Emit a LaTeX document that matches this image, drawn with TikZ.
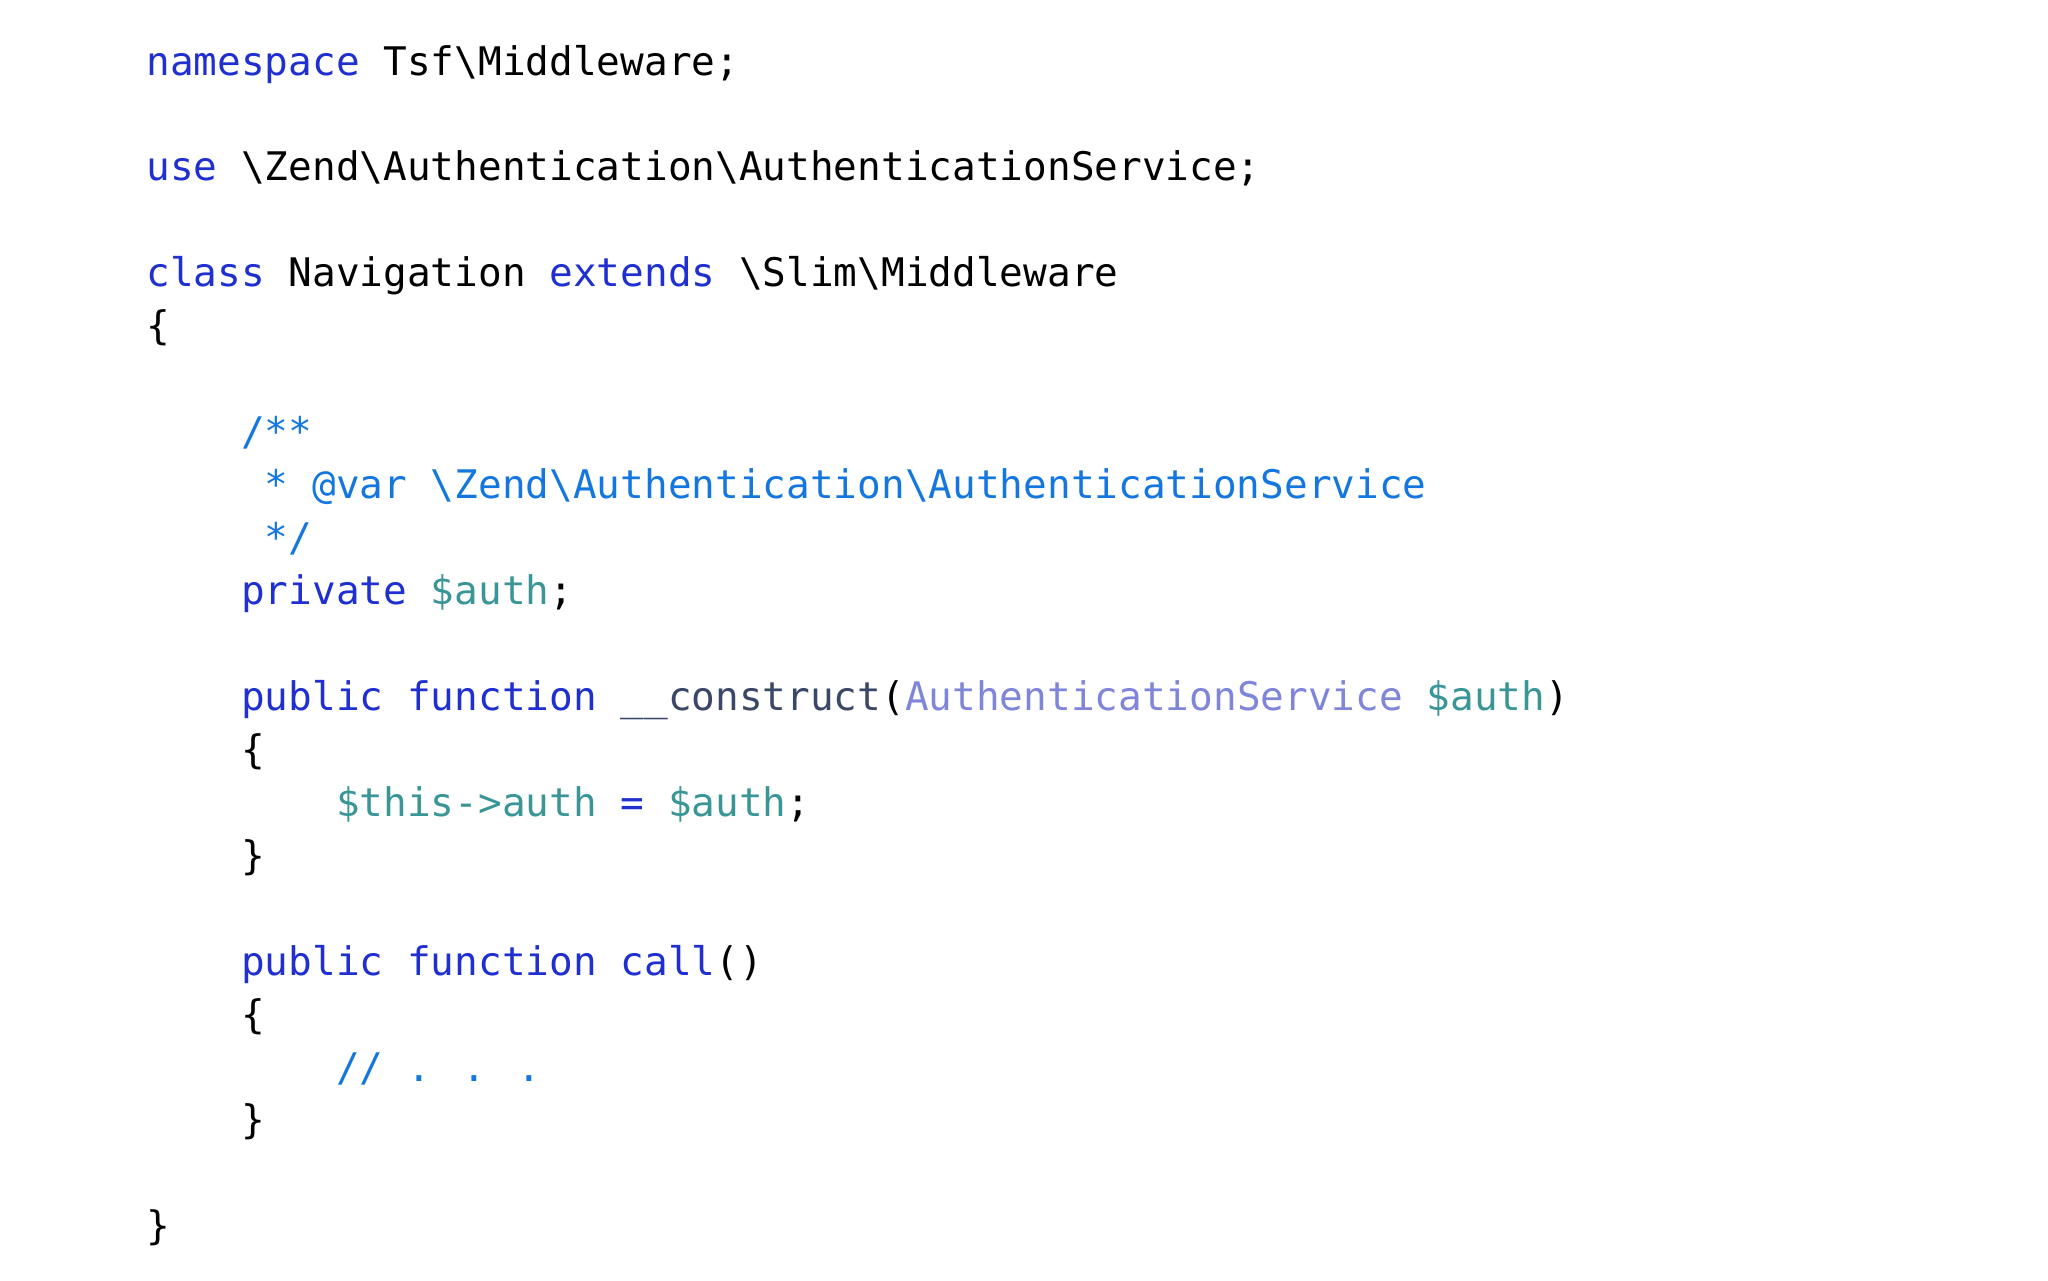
\documentclass[tikz,border=0pt]{standalone}
\usepackage{fontspec}
\newfontfamily\codefont{DejaVu Sans Mono}
\definecolor{kw}{HTML}{1F2FD0}
\definecolor{cm}{HTML}{1477E0}
\definecolor{vr}{HTML}{3A9696}
\definecolor{ty}{HTML}{7F86DA}
\definecolor{fn}{HTML}{3A4766}
\newcommand{\bs}{\char`\\}
\newcommand{\K}[1]{\textcolor{kw}{#1}}
\newcommand{\C}[1]{\textcolor{cm}{#1}}
\newcommand{\V}[1]{\textcolor{vr}{#1}}
\newcommand{\T}[1]{\textcolor{ty}{#1}}
\newcommand{\F}[1]{\textcolor{fn}{#1}}
\begin{document}
\begin{tikzpicture}[x=1pt,y=-1pt,
  codeline/.style={anchor=base west,inner sep=0pt,font=\codefont\fontsize{29.9}{30}\selectfont,text=black}]
\useasboundingbox (0,0) rectangle (1555,972);
\def\ly#1{#1*40.2+57}
\node[codeline] (l0) at (111,{\ly{0}}) {\K{namespace} Tsf\bs Middleware;};
\node[codeline] (l2) at (111,{\ly{2}}) {\K{use} \bs Zend\bs Authentication\bs AuthenticationService;};
\node[codeline] (l4) at (111,{\ly{4}}) {\K{class} Navigation \K{extends} \bs Slim\bs Middleware};
\node[codeline] (l5) at (111,{\ly{5}}) {\{};
\node[codeline] (l7) at (183,{\ly{7}}) {\C{/**}};
\node[codeline] (l8) at (183,{\ly{8}}) {\C{\ * @var \bs Zend\bs Authentication\bs AuthenticationService}};
\node[codeline] (l9) at (183,{\ly{9}}) {\C{\ */}};
\node[codeline] (l10) at (183,{\ly{10}}) {\K{private} \V{\$auth};};
\node[codeline] (l12) at (183,{\ly{12}}) {\K{public} \K{function} \F{\_\_construct}(\T{AuthenticationService} \V{\$auth})};
\node[codeline] (l13) at (183,{\ly{13}}) {\{};
\node[codeline] (l14) at (255,{\ly{14}}) {\V{\$this->auth} \K{=} \V{\$auth};};
\node[codeline] (l15) at (183,{\ly{15}}) {\}};
\node[codeline] (l17) at (183,{\ly{17}}) {\K{public} \K{function} \K{call}()};
\node[codeline] (l18) at (183,{\ly{18}}) {\{};
\node[codeline] (l19) at (255,{\ly{19}}) {\C{// . . .}};
\node[codeline] (l20) at (183,{\ly{20}}) {\}};
\node[codeline] (l22) at (111,{\ly{22}}) {\}};
\end{tikzpicture}
\end{document}
